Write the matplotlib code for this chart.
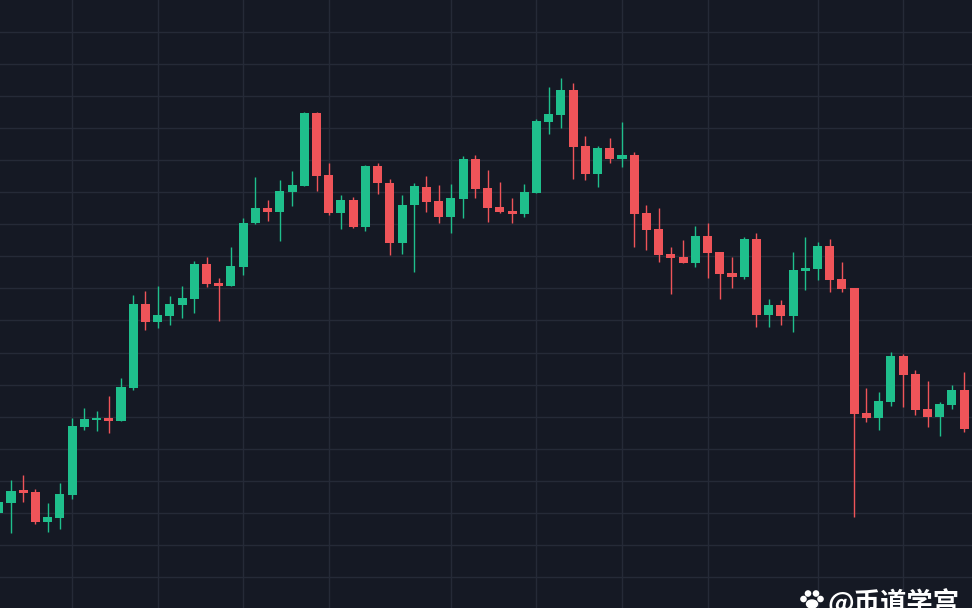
import numpy as np
import matplotlib
matplotlib.use('Agg')
import matplotlib.pyplot as plt
from matplotlib.patches import Circle, Ellipse

# candle data (price units, 80 bars)
opens = [87, 97, 110, 108, 78, 82, 105, 173, 180, 182,
         179, 212, 296, 278, 284, 295, 301, 336, 317, 314,
         333, 377, 392, 388, 408, 414, 487, 425, 387, 400,
         373, 434, 417, 357, 395, 413, 399, 383, 401, 441,
         412, 393, 389, 386, 407, 478, 485, 510, 454, 426,
         452, 441, 445, 387, 371, 346, 343, 337, 364, 348,
         327, 323, 361, 285, 295, 284, 329, 331, 354, 321,
         312, 187, 182, 198, 244, 226, 191, 183, 195, 210]
closes = [98, 109, 107, 78, 83, 106, 174, 181, 182, 179,
          213, 296, 278, 285, 296, 302, 336, 316, 314, 334,
          377, 392, 388, 409, 415, 487, 424, 387, 400, 373,
          434, 417, 357, 395, 414, 398, 383, 402, 441, 411,
          392, 388, 386, 408, 479, 486, 510, 453, 426, 452,
          441, 445, 386, 370, 345, 342, 337, 364, 347, 326,
          323, 361, 285, 295, 284, 330, 332, 354, 320, 311,
          186, 182, 199, 244, 225, 190, 183, 196, 210, 171]
highs = [102, 120, 125, 111, 97, 117, 182, 192, 189, 204,
         222, 305, 309, 314, 304, 314, 339, 343, 322, 353,
         382, 423, 400, 420, 429, 488, 488, 437, 405, 403,
         435, 437, 421, 405, 417, 424, 415, 416, 444, 445,
         430, 418, 402, 416, 481, 513, 522, 517, 464, 454,
         462, 478, 448, 395, 392, 353, 360, 374, 377, 348,
         343, 363, 367, 301, 300, 348, 363, 358, 361, 338,
         312, 212, 208, 248, 246, 230, 219, 198, 215, 228]
lows = [84, 67, 98, 76, 68, 71, 101, 170, 169, 167,
        179, 210, 270, 272, 275, 282, 287, 313, 279, 314,
        325, 376, 379, 359, 394, 414, 409, 385, 371, 372,
        369, 406, 345, 346, 328, 388, 377, 367, 382, 402,
        378, 387, 377, 383, 407, 466, 472, 421, 420, 413,
        437, 433, 353, 350, 338, 306, 337, 333, 322, 301,
        312, 321, 273, 273, 275, 268, 310, 320, 308, 308,
        83, 178, 170, 194, 193, 185, 173, 164, 191, 168]

# bars where the vertical grid lines fall
vgrid_bars = [6, 13, 20, 27, 37, 44, 51, 58, 67, 74]

watermark = '@币道学宫'

BG = '#151924'
GRID = '#252a37'
UP = '#1fbf8c'
DOWN = '#ef5459'

fig = plt.figure(figsize=(9.72, 6.08), dpi=100, facecolor=BG)
ax = fig.add_axes([0, 0, 1, 1])
ax.set_facecolor(BG)

o = np.array(opens, dtype=float)
c = np.array(closes, dtype=float)
h = np.array(highs, dtype=float)
l = np.array(lows, dtype=float)
x = np.arange(len(o))
colors = [UP if cc >= oo else DOWN for oo, cc in zip(o, c)]

# grid
for g in vgrid_bars:
    ax.axvline(g, color=GRID, lw=1, zorder=0)
for yy in np.arange(568.5, -10, -32.1):
    ax.axhline(yy, color=GRID, lw=1, zorder=0)

# wicks and bodies
ax.vlines(x, l, h, colors=colors, lw=1.0, zorder=2)
body_h = np.maximum(np.abs(c - o), 1.8)
ax.bar(x, body_h, bottom=np.minimum(o, c), width=0.74, color=colors,
       linewidth=0, zorder=3)

ax.set_xlim(0.1, 79.64)
ax.set_ylim(-8, 600)
ax.axis('off')

# watermark (paw + text), partly cut by the bottom edge
fig.text(827 / 972, 1 - 590 / 608, watermark, color='white', fontsize=19,
         fontweight='bold', ha='left', va='top',
         family=['Noto Sans CJK SC', 'DejaVu Sans'])
H = 608
fig.add_artist(Ellipse((812, H - 604), 11, 8, transform=None, color='white'))
for px, py, r in [(803.5, 599, 2.6), (808, 593.5, 2.6), (816, 593.5, 2.6), (820.5, 599, 2.6)]:
    fig.add_artist(Circle((px, H - py), r, transform=None, color='white'))

fig.savefig('out.png', dpi=100, facecolor=BG)
